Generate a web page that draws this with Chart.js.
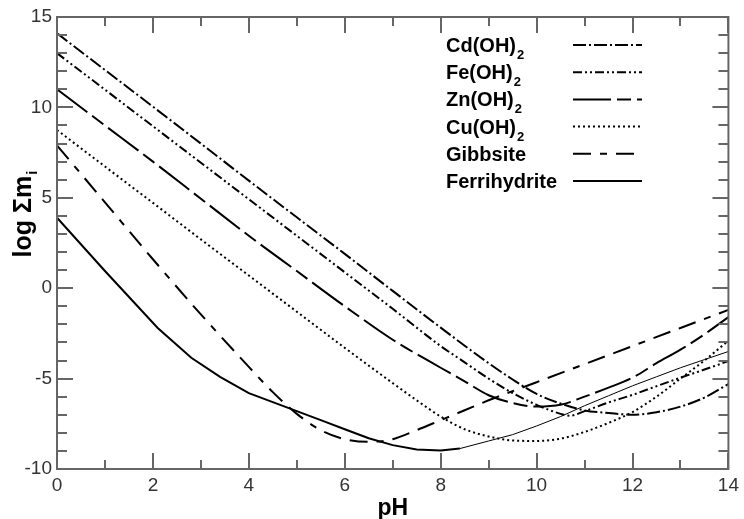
<!DOCTYPE html>
<html>
<head>
<meta charset="utf-8">
<script src="https://cdn.jsdelivr.net/npm/chart.js@4.4.1/dist/chart.umd.min.js"></script>
<style>
  html, body { margin: 0; padding: 0; background: #fff; }
  #c { display: block; }
</style>
</head>
<body>
<canvas id="c" width="744" height="519"></canvas>
<script>
// ---- data ----
const seriesNames = ['Cd(OH)2', 'Fe(OH)2', 'Zn(OH)2', 'Cu(OH)2', 'Gibbsite', 'Ferrihydrite'];

const cdPH  = [0, 1, 2, 3, 4, 5, 6, 7, 8, 9, 9.5, 10, 10.5, 11, 11.5, 12, 12.5, 13, 13.5, 14];
const cdLog = [14.1, 12.07, 10.04, 8.0, 5.95, 3.92, 1.9, -0.15, -2.18, -4.15, -5.05, -5.85, -6.38, -6.76, -6.9, -7.0, -6.86, -6.55, -6.05, -5.3];

const fePH  = [0, 1, 2, 3, 4, 5, 6, 7, 8, 8.5, 9, 9.5, 10, 10.5, 10.7, 11, 11.5, 12, 12.5, 13, 13.5, 14];
const feLog = [13.0, 10.98, 8.96, 6.94, 4.92, 2.9, 0.88, -1.14, -3.2, -4.1, -5.0, -5.8, -6.45, -6.95, -7.05, -6.8, -6.32, -5.9, -5.42, -4.95, -4.5, -4.03];

const znPH  = [0, 1, 2, 3, 4, 5, 6, 7, 8, 8.5, 9, 9.5, 10, 10.5, 11, 11.5, 12, 12.5, 13, 13.5, 14];
const znLog = [11.0, 9.0, 7.0, 4.95, 2.9, 0.95, -1.0, -2.85, -4.4, -5.15, -5.92, -6.35, -6.55, -6.45, -6.0, -5.5, -4.95, -4.15, -3.4, -2.55, -1.6];

const cuPH  = [0, 1, 2, 3, 4, 5, 6, 7, 7.5, 8, 8.5, 9, 9.5, 10, 10.5, 11, 11.5, 12, 12.5, 13, 13.5, 14];
const cuLog = [8.75, 6.73, 4.72, 2.7, 0.7, -1.3, -3.3, -5.25, -6.2, -7.1, -7.8, -8.2, -8.42, -8.45, -8.32, -7.95, -7.45, -6.85, -6.0, -5.0, -4.0, -2.9];

const gibPH  = [0, 1, 2, 3, 4, 4.5, 5, 5.5, 6, 6.5, 7, 7.5, 8, 8.5, 9, 10, 11, 12, 13, 14];
const gibLog = [7.9, 4.75, 1.6, -1.45, -4.35, -5.75, -6.95, -7.85, -8.35, -8.5, -8.35, -7.85, -7.3, -6.75, -6.2, -5.2, -4.2, -3.2, -2.2, -1.2];

const ferPH  = [0, 1, 2.1, 2.8, 3.4, 4, 4.5, 5, 5.5, 6, 6.5, 7, 7.5, 8, 8.4, 9, 9.5, 10, 10.5, 11, 11.5, 12, 12.5, 13, 13.5, 14];
const ferLog = [3.9, 0.95, -2.2, -3.85, -4.9, -5.8, -6.3, -6.8, -7.3, -7.8, -8.3, -8.68, -8.92, -8.97, -8.87, -8.45, -8.1, -7.62, -7.1, -6.5, -5.95, -5.4, -4.9, -4.4, -3.95, -3.5];

const xTickValues = [0, 2, 4, 6, 8, 10, 12, 14];
const yTickValues = [-10, -5, 0, 5, 10, 15];
const xTitle = 'pH';
const yTitleMain = 'log Σm';
const yTitleSub = 'i';

// ---- styles ----
const FONT = "'Liberation Sans', Arial, Helvetica, sans-serif";
const dashes = [
  [13, 3, 2, 3],          // Cd dash-dot
  [9, 3, 2, 3, 2, 3],     // Fe dash-dot-dot
  [38, 6, 14, 6],         // Zn long-short dash
  [2, 3],                 // Cu dotted
  [18, 9, 7, 9, 18, 9],   // Gibbsite dashed
  []                      // Ferrihydrite solid
];

function pts(xs, ys) { return xs.map((x, i) => ({ x: x, y: ys[i] })); }
const allPts = [pts(cdPH, cdLog), pts(fePH, feLog), pts(znPH, znLog), pts(cuPH, cuLog), pts(gibPH, gibLog), pts(ferPH, ferLog)];

const datasets = seriesNames.map((name, i) => {
  const ds = {
    label: name,
    data: allPts[i],
    borderColor: '#000',
    borderWidth: 2,
    borderDash: dashes[i],
    borderCapStyle: 'butt',
    pointRadius: 0,
    tension: 0,
    fill: false
  };
  if (name === 'Ferrihydrite') {
    ds.segment = { borderWidth: ctx => (ctx.p0.parsed.x >= 8.4 ? 1 : 2) };
  } else {
    ds.cubicInterpolationMode = 'monotone';
  }
  return ds;
});

const decor = {
  id: 'decor',
  afterDatasetsDraw(chart) {
    const ctx = chart.ctx, a = chart.chartArea;
    const xs = chart.scales.x, ys = chart.scales.y;
    ctx.save();
    ctx.strokeStyle = '#666';
    ctx.lineWidth = 2;
    ctx.setLineDash([]);
    ctx.beginPath();
    for (let v = 0; v <= 14; v++) {
      const px = Math.round(xs.getPixelForValue(v));
      const L = v % 2 === 0 ? 16 : 9;
      ctx.moveTo(px, a.bottom); ctx.lineTo(px, a.bottom - L);
      ctx.moveTo(px, a.top); ctx.lineTo(px, a.top + L);
    }
    for (let v = -10; v <= 15; v++) {
      const py = Math.round(ys.getPixelForValue(v));
      const L = v % 5 === 0 ? 16 : 10;
      ctx.moveTo(a.left, py); ctx.lineTo(a.left + L, py);
      ctx.moveTo(a.right, py); ctx.lineTo(a.right - L, py);
    }
    ctx.stroke();
    ctx.strokeRect(a.left, a.top, a.right - a.left, a.bottom - a.top);
    ctx.restore();
  },
  afterDraw(chart) {
    const ctx = chart.ctx, a = chart.chartArea;
    ctx.save();
    ctx.fillStyle = '#000';
    // legend
    const lx = 446, base0 = 52, step = 27.2;
    chart.data.datasets.forEach((ds, i) => {
      const by = base0 + step * i;
      const m = ds.label.match(/^(.*\))(\d)$/);
      const main = m ? m[1] : ds.label;
      ctx.font = 'bold 20px ' + FONT;
      ctx.textAlign = 'left';
      ctx.textBaseline = 'alphabetic';
      ctx.fillText(main, lx, by);
      if (m) {
        const w = ctx.measureText(main).width;
        ctx.font = 'bold 13px ' + FONT;
        ctx.fillText(m[2], lx + w + 1, by + 7);
      }
      ctx.strokeStyle = '#000';
      ctx.lineWidth = 2;
      ctx.lineCap = 'butt';
      ctx.setLineDash(ds.borderDash || []);
      ctx.beginPath();
      ctx.moveTo(573, by - 7);
      ctx.lineTo(642, by - 7);
      ctx.stroke();
    });
    ctx.setLineDash([]);
    // x title
    ctx.font = 'bold 23px ' + FONT;
    ctx.textAlign = 'center';
    ctx.textBaseline = 'alphabetic';
    ctx.fillText(xTitle, (a.left + a.right) / 2, 515);
    // y title
    ctx.translate(31, 214);
    ctx.rotate(-Math.PI / 2);
    ctx.font = 'bold 25px ' + FONT;
    const wMain = ctx.measureText(yTitleMain).width;
    ctx.font = 'bold 15px ' + FONT;
    const wSub = ctx.measureText(yTitleSub).width;
    const start = -(wMain + wSub + 1) / 2;
    ctx.textAlign = 'left';
    ctx.font = 'bold 25px ' + FONT;
    ctx.fillText(yTitleMain, start, 0);
    ctx.font = 'bold 15px ' + FONT;
    ctx.fillText(yTitleSub, start + wMain + 1, 6);
    ctx.restore();
  }
};

new Chart(document.getElementById('c'), {
  type: 'line',
  data: { datasets: datasets },
  options: {
    responsive: false,
    animation: false,
    events: [],
    layout: { padding: { top: 17, right: 15, left: 0, bottom: 0 } },
    plugins: { legend: { display: false }, tooltip: { enabled: false }, title: { display: false } },
    scales: {
      x: {
        type: 'linear', position: 'bottom', min: 0, max: 14,
        afterBuildTicks: s => { s.ticks = xTickValues.map(v => ({ value: v })); },
        ticks: { color: '#333', font: { family: FONT, size: 19 }, padding: 5, maxRotation: 0, autoSkip: false },
        grid: { display: false, drawTicks: false },
        border: { display: false },
        afterFit: s => { s.height = 50; }
      },
      y: {
        type: 'linear', position: 'left', min: -10, max: 15,
        afterBuildTicks: s => { s.ticks = yTickValues.map(v => ({ value: v })); },
        ticks: { color: '#333', font: { family: FONT, size: 19 }, padding: 5 },
        grid: { display: false, drawTicks: false },
        border: { display: false },
        afterFit: s => { s.width = 57; }
      }
    }
  },
  plugins: [decor]
});
</script>
</body>
</html>
